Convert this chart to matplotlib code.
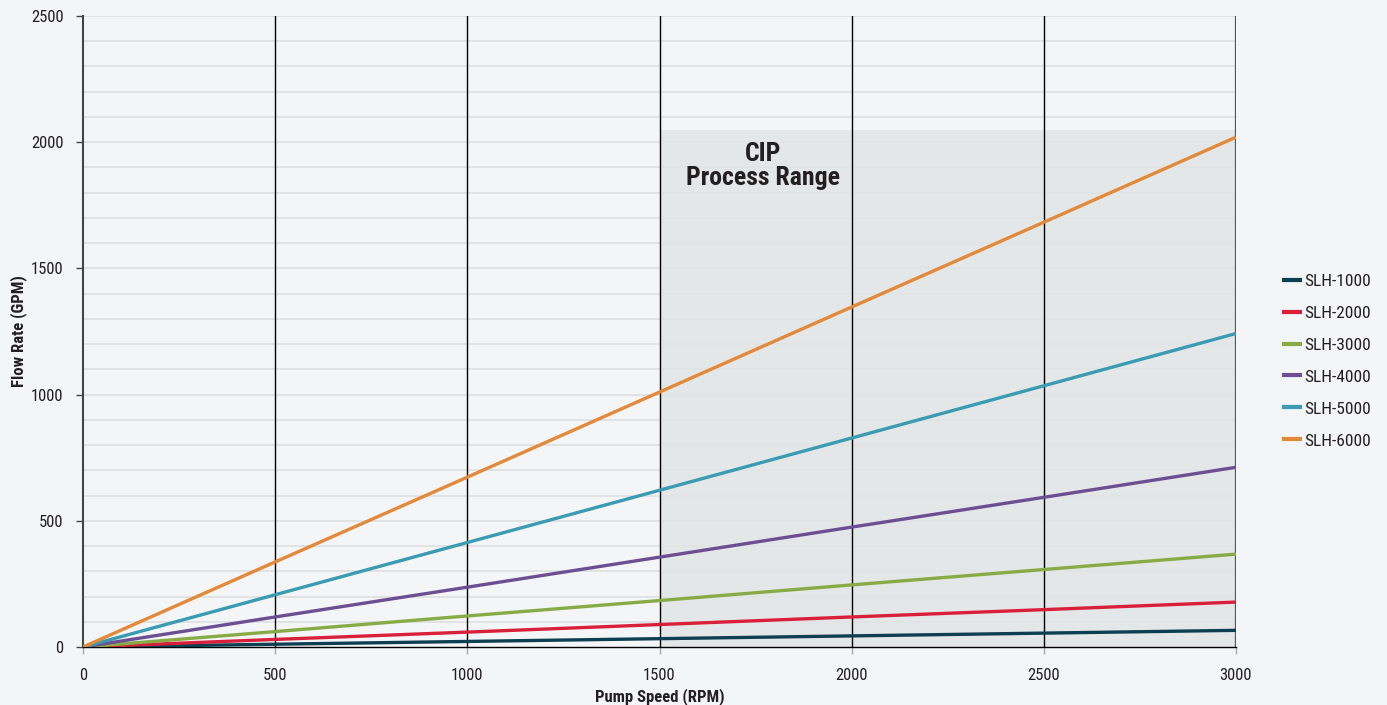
import numpy as np
import matplotlib.pyplot as plt
from matplotlib.patches import Rectangle

plt.rcParams['font.family'] = ['Roboto Condensed', 'Liberation Sans Narrow', 'Roboto', 'DejaVu Sans']

rpm = [0, 500, 1000, 1500, 2000, 2500, 3000]
series_names = ['SLH-1000', 'SLH-2000', 'SLH-3000', 'SLH-4000', 'SLH-5000', 'SLH-6000']
slh_1000 = [0, 11, 22, 33, 44, 55, 66]
slh_2000 = [0, 30, 59, 89, 119, 148, 178]
slh_3000 = [0, 61, 123, 184, 246, 307, 368]
slh_4000 = [0, 119, 237, 356, 475, 593, 712]
slh_5000 = [0, 207, 414, 621, 828, 1035, 1242]
slh_6000 = [0, 337, 673, 1010, 1347, 1683, 2020]
colors = ['#0d3f52', '#d9203a', '#88ab45', '#6c4f92', '#3a9bb3', '#e3893a']

cip_start, cip_end, cip_top = 1500, 3000, 2050
x_ticks = [0, 500, 1000, 1500, 2000, 2500, 3000]
y_ticks = [0, 500, 1000, 1500, 2000, 2500]

bg = '#f4f5f7'
fig = plt.figure(figsize=(13.87, 7.05), dpi=100, facecolor=bg)
ax = fig.add_axes([83/1387, 1 - 647/705, (1236-83)/1387, (647-16)/705])
ax.set_facecolor(bg)

# light horizontal grid every 100 GPM
for yv in range(100, 2600, 100):
    ax.axhline(yv, color='#e1e2e4', lw=1.4, zorder=0)

ax.add_patch(Rectangle((cip_start, 0), cip_end - cip_start, cip_top,
                       facecolor='#e2e5e5', edgecolor='none', alpha=0.85, zorder=1))

for xv in x_ticks[1:-1]:
    ax.axvline(xv, color='black', lw=1.0, zorder=2)
ax.axvline(3000, color='#555555', lw=1.6, zorder=2)

data = [slh_1000, slh_2000, slh_3000, slh_4000, slh_5000, slh_6000]
for name, vals, c in zip(series_names, data, colors):
    ax.plot(rpm, vals, color=c, lw=2.4, label=name, zorder=3, solid_capstyle='butt')

ax.text(1769, 1904, 'CIP\nProcess Range', ha='center', va='center',
        fontsize=18.5, fontweight='bold', color='#231f20', linespacing=1.0, zorder=4)

ax.set_xlim(0, 3000)
ax.set_ylim(0, 2500)
ax.set_xticks(x_ticks)
ax.set_yticks(y_ticks)
ax.tick_params(axis='x', length=5, width=1, color='#aaaaaa', pad=10, labelsize=12, labelcolor='#231f20')
ax.tick_params(axis='y', length=5, width=1, color='#444444', pad=9, labelsize=12, labelcolor='#231f20')

for s in ['top', 'right']:
    ax.spines[s].set_visible(False)
ax.spines['left'].set_color('#444444')
ax.spines['left'].set_linewidth(1.5)
ax.spines['bottom'].set_color('black')
ax.spines['bottom'].set_linewidth(1.0)

ax.set_xlabel('Pump Speed (RPM)', fontsize=12, fontweight='bold', color='#231f20', labelpad=4)
ax.set_ylabel('Flow Rate (GPM)', fontsize=12, fontweight='bold', color='#231f20', labelpad=3)

leg = ax.legend(loc='center left', bbox_to_anchor=(1266/1387, 1 - 361/705),
                bbox_transform=fig.transFigure, frameon=False, fontsize=12.5,
                handlelength=1.15, handletextpad=0.15, labelspacing=0.97)
for line in leg.get_lines():
    line.set_linewidth(3)
for t in leg.get_texts():
    t.set_color('#231f20')

fig.savefig('out.png', dpi=100, facecolor=bg)
